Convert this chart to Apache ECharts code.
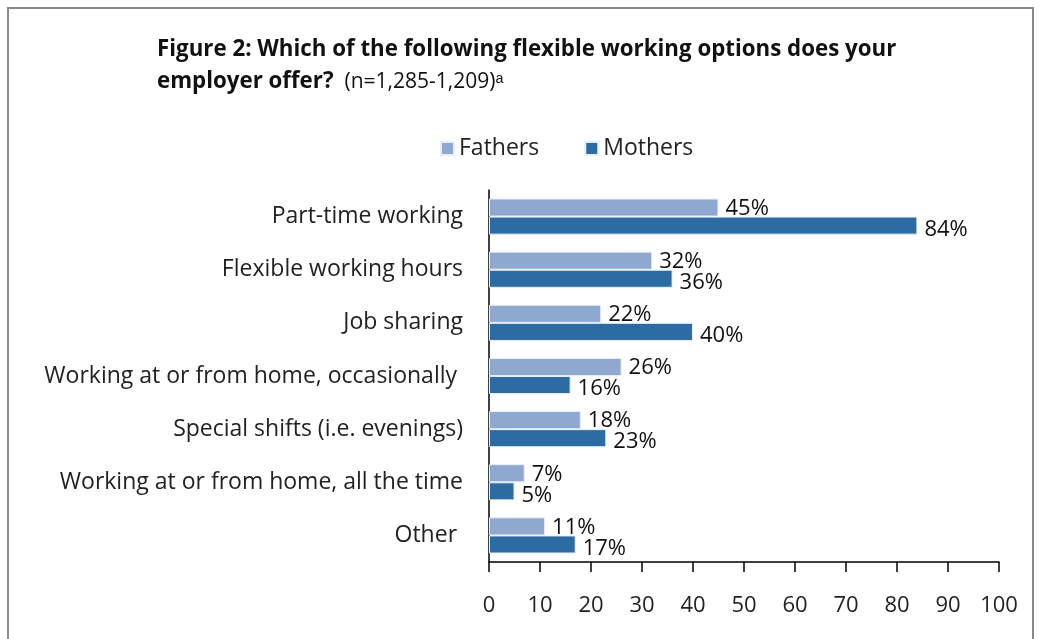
<!DOCTYPE html>
<html>
<head>
<meta charset="utf-8">
<script src="https://cdn.jsdelivr.net/npm/echarts@6/dist/echarts.min.js"></script>
<style>
  html, body { margin: 0; padding: 0; background: #fff; }
  #chart { width: 1041px; height: 639px; }
</style>
</head>
<body>
<div id="chart"></div>
<script>
var categories = [
  "Part-time working",
  "Flexible working hours",
  "Job sharing",
  "Working at or from home, occasionally ",
  "Special shifts (i.e. evenings)",
  "Working at or from home, all the time",
  "Other "
];
var fathers = [45, 32, 22, 26, 18, 7, 11];
var mothers = [84, 36, 40, 16, 23, 5, 17];
var xTicks = [0, 10, 20, 30, 40, 50, 60, 70, 80, 90, 100];

var font = "'Open Sans', sans-serif";

var myChart = echarts.init(document.getElementById("chart"));
var option = {
  backgroundColor: "#fff",
  textStyle: { fontFamily: font },
  graphic: [
    {
      type: "rect",
      shape: { x: 8, y: 8, width: 1025, height: 640 },
      style: { fill: "none", stroke: "#8a8a8a", lineWidth: 2 },
      silent: true
    }
  ],
  title: {
    left: 152,
    top: 29,
    text: "{b|Figure 2: Which of the following flexible working options does your}\n{b|employer offer?}{n|  (n=1,285-1,209)ᵃ}",
    textStyle: {
      rich: {
        b: { fontFamily: font, fontSize: 22.3, fontWeight: "bold", color: "#111", lineHeight: 32 },
        n: { fontFamily: font, fontSize: 21, fontWeight: "normal", color: "#111", lineHeight: 32 }
      }
    }
  },
  legend: {
    top: 132,
    left: 435,
    icon: "rect",
    itemWidth: 13,
    itemHeight: 13,
    itemGap: 45,
    textStyle: { fontFamily: font, fontSize: 23, color: "#222" },
    data: ["Fathers", "Mothers"]
  },
  grid: { left: 489, right: 42, top: 190, bottom: 77, containLabel: false },
  xAxis: {
    type: "value",
    min: xTicks[0],
    max: xTicks[xTicks.length - 1],
    interval: 10,
    axisLine: { show: true, lineStyle: { color: "#000", width: 1.5 } },
    axisTick: { show: true, length: 10, lineStyle: { color: "#000", width: 1.5 } },
    axisLabel: { margin: 33, fontFamily: font, fontSize: 22, color: "#222" },
    splitLine: { show: false }
  },
  yAxis: {
    type: "category",
    inverse: true,
    data: categories,
    axisLine: { show: true, lineStyle: { color: "#000", width: 1.5 } },
    axisTick: { show: false },
    axisLabel: { margin: 26, fontFamily: font, fontSize: 23, color: "#222" }
  },
  series: [
    {
      name: "Fathers",
      type: "bar",
      data: fathers,
      barGap: "0%",
      barCategoryGap: "32%",
      itemStyle: { color: "#8EA8D0", borderColor: "#e8eef7", borderWidth: 1 },
      label: {
        show: true,
        position: "right",
        distance: 7,
        formatter: "{c}%",
        fontFamily: font,
        fontSize: 22,
        color: "#111",
        offset: [0, 1]
      }
    },
    {
      name: "Mothers",
      type: "bar",
      data: mothers,
      itemStyle: { color: "#2D6CA3", borderColor: "#e8eef7", borderWidth: 1 },
      label: {
        show: true,
        position: "right",
        distance: 7,
        formatter: "{c}%",
        fontFamily: font,
        fontSize: 22,
        color: "#111",
        offset: [0, 4]
      }
    }
  ]
};
myChart.setOption(option);
</script>
</body>
</html>
